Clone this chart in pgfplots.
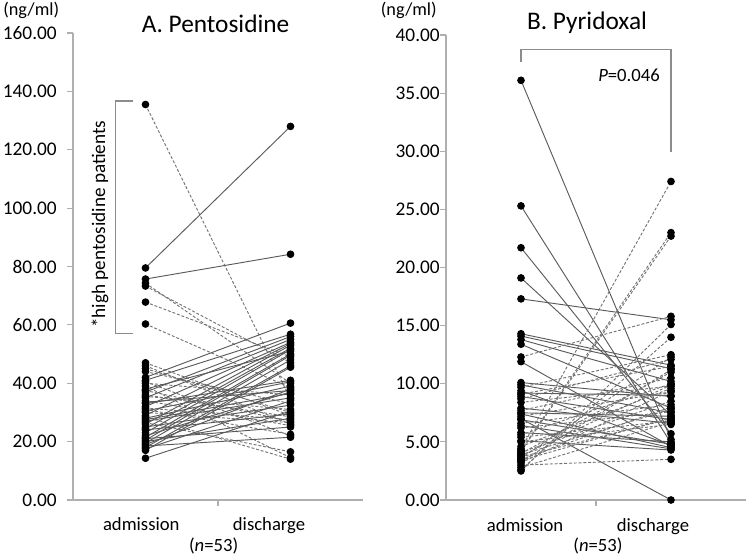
\documentclass[border=0pt]{standalone}
\usepackage{fontspec}
\setmainfont{Carlito}
\usepackage{pgfplots}
\pgfplotsset{compat=1.18}

\definecolor{axisgray}{RGB}{175,175,175}
\definecolor{linegray}{RGB}{90,90,90}

\pgfplotsset{
  paired/.style={
    scale only axis, clip=false,
    xmin=0, xmax=2, ymin=0,
    axis x line*=bottom, axis y line*=left,
    axis line style={draw=axisgray, line width=0.8pt},
    xtick=\empty,
    tick align=outside, major tick length=4.5pt,
    ytick style={draw=axisgray, line width=0.8pt},
    yticklabel style={font=\fontsize{14.5}{17}\selectfont, inner sep=0pt},
    /pgf/number format/.cd, fixed, fixed zerofill, precision=2,
    assume math mode=true, /pgfplots/.cd,
    every axis plot/.append style={color=linegray, line width=0.7pt,
      mark=*, mark size=2.5pt, mark options={solid, fill=black, draw=black}},
  },
  dashln/.style={dash pattern=on 2.2pt off 1.4pt, color=black!55},
}
% one patient: admission value, discharge value
\newcommand\lnS[2]{\addplot[solid] coordinates {(0.5,#1) (1.5,#2)};}
\newcommand\lnD[2]{\addplot[dashln] coordinates {(0.5,#1) (1.5,#2)};}

\begin{document}
\begin{tikzpicture}
\path[use as bounding box] (0,0) rectangle (562.5pt,417pt);

% ---------------- A. Pentosidine
\begin{axis}[paired, at={(54.75pt,42pt)}, anchor=south west,
  width=217.5pt, height=350.25pt, ymax=160, ytick={0,20,...,160},
  yticklabel style={xshift=-7.5pt}]
\lnD{135.5}{34.6}
\lnS{79.5}{128}
\lnS{75.7}{84.2}
\lnD{74.3}{40}
\lnD{73.3}{47}
\lnD{67.8}{49}
\lnD{60.3}{38.5}
\lnD{47}{29}
\lnD{46}{26}
\lnD{45}{30}
\lnD{44}{33}
\lnS{42}{60.6}
\lnS{41}{56.8}
\lnD{40.5}{22}
\lnD{40}{36}
\lnD{39}{14.5}
\lnS{38}{51}
\lnD{37.5}{27}
\lnS{37}{56}
\lnD{36}{28.5}
\lnS{35}{55}
\lnD{34}{25.5}
\lnS{33}{41}
\lnS{32}{54}
\lnD{31}{22.5}
\lnS{30.5}{40.5}
\lnD{30}{26.5}
\lnS{29}{53.5}
\lnS{28}{39}
\lnS{27}{35}
\lnD{26.5}{16.5}
\lnS{26}{53}
\lnS{25}{32.5}
\lnS{24.5}{52}
\lnS{24}{29.5}
\lnS{23}{51.5}
\lnS{22}{37}
\lnS{21.5}{50}
\lnS{21}{25}
\lnS{20.5}{49.5}
\lnS{20}{28}
\lnS{19.5}{48}
\lnS{19}{38}
\lnS{18.5}{21.5}
\lnS{18}{46}
\lnS{17.5}{34}
\lnS{17}{45.5}
\lnD{28.5}{14}
\lnS{33.5}{37.5}
\lnD{35.5}{31}
\lnD{31.5}{27.5}
\lnS{27.5}{36.5}
\lnS{14.3}{30.5}
\draw[axisgray, line width=0.8pt] (axis cs:1,0) -- ++(0pt,-4.5pt);
\draw[black!45, line width=0.8pt] (axis cs:0.416,136.7) -| (axis cs:0.294,57.1) -- (axis cs:0.416,57.1);
\node[rotate=90, font=\fontsize{14.4}{17}\selectfont] at (axis cs:0.186,94.5) {*high pentosidine patients};
\node[anchor=base, font=\fontsize{19}{22}\selectfont] at (axis cs:0.983,160.2) {A. Pentosidine};
\node[font=\fontsize{13.7}{16}\selectfont] at (axis cs:-0.288,167.6) {(ng/ml)};
\node[anchor=base, font=\fontsize{14}{17}\selectfont] at (axis cs:0.471,-10.6) {admission};
\node[anchor=base, font=\fontsize{14}{17}\selectfont] at (axis cs:1.352,-10.6) {discharge};
\node[anchor=base, font=\fontsize{14}{17}\selectfont] at (axis cs:0.97,-17.8) {(\textit{n}=53)};
\end{axis}

% ---------------- B. Pyridoxal
\begin{axis}[paired, at={(334.5pt,42pt)}, anchor=south west,
  width=225pt, height=348.75pt, ymax=40, ytick={0,5,...,40}]
\lnS{36.1}{5.2}
\lnS{25.3}{4.9}
\lnS{21.7}{5.7}
\lnS{19.1}{7.3}
\lnS{17.3}{15.5}
\lnS{14.3}{11.6}
\lnS{14.1}{11.3}
\lnS{13.8}{10.2}
\lnS{13.4}{7.9}
\lnD{12.3}{15.8}
\lnS{11.9}{4.6}
\lnS{10.1}{8.9}
\lnS{9.9}{7.5}
\lnD{9.7}{12.5}
\lnS{9.4}{4.7}
\lnS{9.2}{9.0}
\lnD{9.1}{11.5}
\lnS{8.9}{6.9}
\lnD{8.7}{12.1}
\lnD{8.4}{9.8}
\lnS{7.9}{6.6}
\lnD{7.7}{10.5}
\lnS{7.5}{7.2}
\lnS{7.4}{4.5}
\lnD{7.2}{9.3}
\lnS{7.0}{0.0}
\lnS{6.9}{4.8}
\lnD{6.6}{8.2}
\lnS{6.4}{4.4}
\lnD{6.2}{7.6}
\lnS{5.8}{5.0}
\lnD{5.6}{10.0}
\lnD{5.4}{6.8}
\lnS{5.1}{4.3}
\lnD{5.0}{6.5}
\lnD{4.6}{9.6}
\lnD{4.4}{27.4}
\lnD{4.3}{23.0}
\lnD{4.2}{22.7}
\lnD{4.1}{8.5}
\lnD{4.0}{11.0}
\lnD{3.9}{7.8}
\lnD{3.8}{9.9}
\lnD{3.7}{7.0}
\lnD{3.6}{12.3}
\lnD{3.5}{8.0}
\lnD{3.4}{7.1}
\lnD{3.3}{11.2}
\lnD{3.2}{9.4}
\lnD{3.0}{3.5}
\lnD{2.8}{6.7}
\lnD{2.6}{14.0}
\lnD{2.5}{15.1}
\draw[axisgray, line width=0.8pt] (axis cs:1,0) -- ++(0pt,-4.5pt);
\draw[black!45, line width=0.8pt] (axis cs:0.5,37.7) |- (axis cs:1.5,38.77) -- (axis cs:1.5,29.9);
\node[anchor=base east, inner sep=0pt, font=\fontsize{14}{17}\selectfont] at (axis cs:1.427,36.04) {\textit{P}=0.046};
\node[anchor=base, font=\fontsize{19}{22}\selectfont] at (axis cs:0.94,40.49) {B. Pyridoxal};
\node[font=\fontsize{13.7}{16}\selectfont] at (axis cs:-0.248,42.1) {(ng/ml)};
\node[anchor=base, font=\fontsize{14}{17}\selectfont] at (axis cs:0.527,-2.67) {admission};
\node[anchor=base, font=\fontsize{14}{17}\selectfont] at (axis cs:1.38,-2.67) {discharge};
\node[anchor=base, font=\fontsize{14}{17}\selectfont] at (axis cs:1.013,-4.47) {(\textit{n}=53)};
\end{axis}
\end{tikzpicture}
\end{document}
